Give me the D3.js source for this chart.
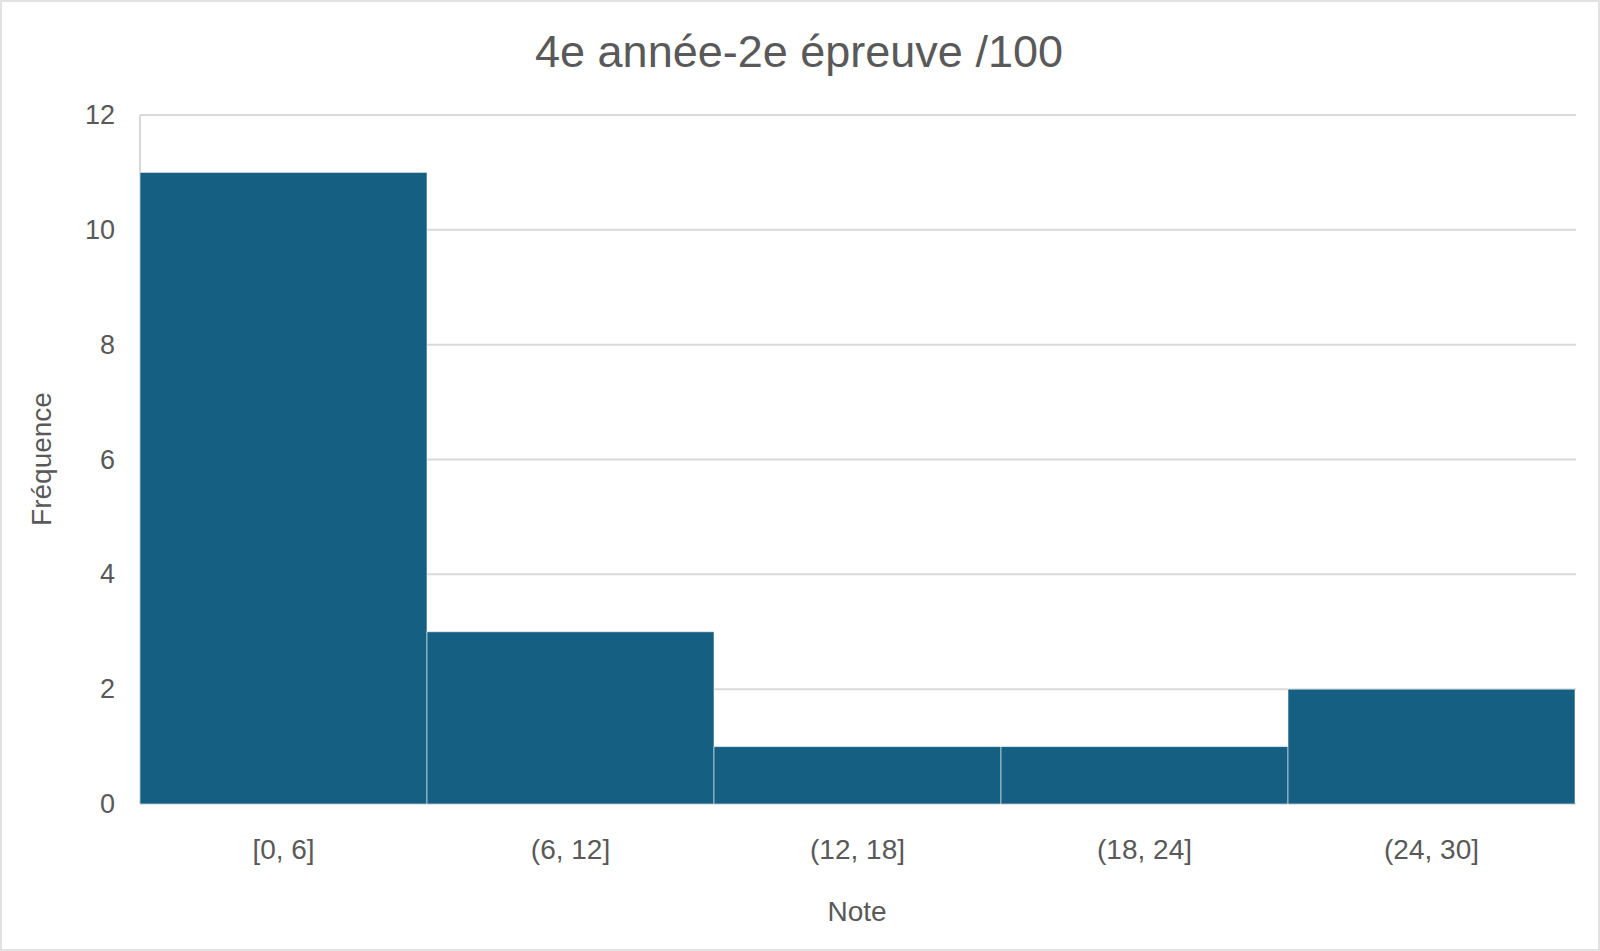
<!DOCTYPE html>
<html>
<head>
<meta charset="utf-8">
<script src="https://cdn.jsdelivr.net/npm/d3@7"></script>
<style>
	html, body { margin: 0; padding: 0; background: #fff; }
	svg { display: block; font-family: "Liberation Sans", Arial, sans-serif; }
</style>
</head>
<body>
<div id="chart"></div>
<script>
const titleText = '4e année-2e épreuve /100';
const xTitle = 'Note';
const yTitle = 'Fréquence';
const bins = ['[0, 6]', '(6, 12]', '(12, 18]', '(18, 24]', '(24, 30]'];
const counts = [11, 3, 1, 1, 2];
const yTicks = [0, 2, 4, 6, 8, 10, 12];

const width = 1600;
const height = 951;
const margin = { top: 115, right: 25, bottom: 147, left: 140 };
const textColor = '#595959';
const gridColor = '#d9d9d9';
const barColor = '#156082';

function drawChart() {
	const svg = d3.select('#chart').append('svg')
		.attr('width', width)
		.attr('height', height);

	// outer chart border
	svg.append('rect')
		.attr('x', 1).attr('y', 1)
		.attr('width', width - 2).attr('height', height - 2)
		.attr('fill', '#fff')
		.attr('stroke', gridColor)
		.attr('stroke-width', 1.5);

	const x = d3.scaleBand()
		.domain(bins)
		.range([margin.left, width - margin.right])
		.padding(0);

	const y = d3.scaleLinear()
		.domain([0, 12])
		.range([height - margin.bottom, margin.top]);

	// horizontal gridlines
	svg.append('g')
		.selectAll('line')
		.data(yTicks)
		.enter().append('line')
		.attr('x1', margin.left)
		.attr('x2', width - margin.right + 1)
		.attr('y1', d => y(d))
		.attr('y2', d => y(d))
		.attr('stroke', gridColor)
		.attr('stroke-width', 2);

	// left axis line
	svg.append('line')
		.attr('x1', margin.left).attr('x2', margin.left)
		.attr('y1', y(12)).attr('y2', y(0))
		.attr('stroke', gridColor)
		.attr('stroke-width', 2);

	// bars
	svg.append('g')
		.selectAll('rect')
		.data(counts)
		.enter().append('rect')
		.attr('x', (d, i) => x(bins[i]))
		.attr('y', d => y(d))
		.attr('width', x.bandwidth())
		.attr('height', d => y(0) - y(d))
		.attr('fill', barColor)
		.attr('stroke', '#ffffff')
		.attr('stroke-opacity', 0.55)
		.attr('stroke-width', 1);

	// y tick labels
	const yAxis = svg.append('g')
		.attr('transform', `translate(${margin.left},0)`)
		.call(d3.axisLeft(y).tickValues(yTicks).tickSize(0).tickPadding(25));
	yAxis.select('.domain').remove();
	yAxis.selectAll('text')
		.attr('fill', textColor)
		.style('font-size', '27px')
		.style('font-family', '"Liberation Sans", Arial, sans-serif');

	// x tick labels
	const xAxis = svg.append('g')
		.attr('transform', `translate(0,${y(0)})`)
		.call(d3.axisBottom(x).tickSize(0).tickPadding(35));
	xAxis.select('.domain').remove();
	xAxis.selectAll('text')
		.attr('fill', textColor)
		.style('font-size', '28px')
		.style('font-family', '"Liberation Sans", Arial, sans-serif');

	// title
	svg.append('text')
		.attr('x', 799)
		.attr('y', 67)
		.attr('text-anchor', 'middle')
		.attr('fill', textColor)
		.style('font-size', '45px')
		.text(titleText);

	// axis titles
	svg.append('text')
		.attr('x', 857)
		.attr('y', 921)
		.attr('text-anchor', 'middle')
		.attr('fill', textColor)
		.style('font-size', '28px')
		.text(xTitle);

	svg.append('text')
		.attr('transform', 'translate(51,459) rotate(-90)')
		.attr('text-anchor', 'middle')
		.attr('fill', textColor)
		.style('font-size', '28px')
		.text(yTitle);
}

drawChart();
</script>
</body>
</html>
